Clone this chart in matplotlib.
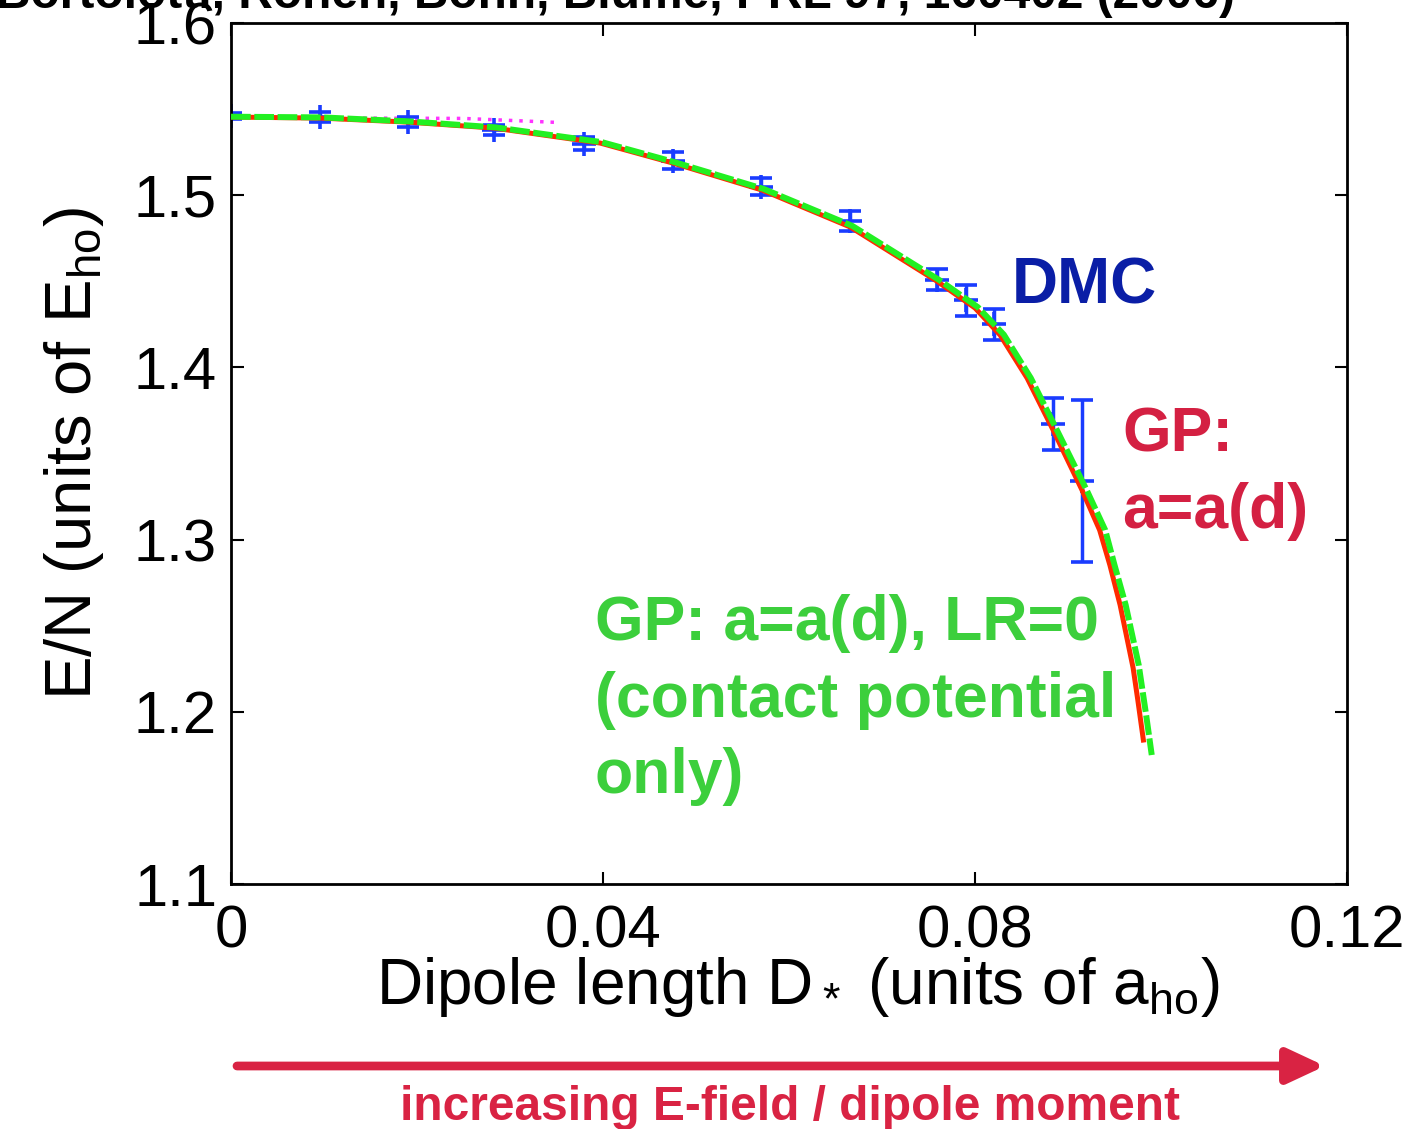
import matplotlib
matplotlib.use("Agg")
import matplotlib.pyplot as plt
from matplotlib.patches import FancyArrowPatch

# DMC energies with error bars
dmc_x = [0.0, 0.0096, 0.019, 0.0283, 0.038, 0.0475, 0.057, 0.0666, 0.0759, 0.079, 0.082, 0.0884, 0.0915]
dmc_y = [1.546, 1.5455, 1.5425, 1.538, 1.530, 1.520, 1.505, 1.485, 1.451, 1.439, 1.425, 1.367, 1.334]
dmc_err = [0.002, 0.003, 0.003, 0.003, 0.004, 0.005, 0.005, 0.006, 0.006, 0.009, 0.009, 0.015, 0.047]

# GP, a = a(d)
gp_x = [0.0, 0.0096, 0.0189, 0.0283, 0.0397, 0.0475, 0.0571, 0.0666, 0.0759, 0.0800, 0.0827,
        0.0856, 0.0884, 0.0915, 0.0934, 0.0945, 0.0956, 0.0970, 0.0975, 0.0981]
gp_y = [1.5454, 1.5448, 1.5425, 1.5390, 1.5303, 1.5187, 1.5030, 1.4815, 1.4501, 1.4345, 1.4188,
        1.3938, 1.3636, 1.3288, 1.3055, 1.2852, 1.2620, 1.2254, 1.2069, 1.1836]

# GP, a = a(d), LR = 0 (contact potential only)
lr0_x = [0.0, 0.0098, 0.0191, 0.0285, 0.0399, 0.0477, 0.0573, 0.0668, 0.0762, 0.0803, 0.0831,
         0.0860, 0.0888, 0.0920, 0.0940, 0.0950, 0.0962, 0.0976, 0.0984, 0.0990]
lr0_y = [1.5456, 1.5452, 1.5429, 1.5394, 1.5308, 1.5192, 1.5036, 1.4822, 1.4506, 1.4350, 1.4190,
         1.3938, 1.3636, 1.3288, 1.3055, 1.2852, 1.2620, 1.2272, 1.1981, 1.1749]

# bit of a magenta dotted curve peeking out near the top
mag_x = [0.0142, 0.025, 0.035]
mag_y = [1.5448, 1.5446, 1.5423]

xticks = [0, 0.04, 0.08, 0.12]
xtick_labels = ['0', '0.04', '0.08', '0.12']
yticks = [1.1, 1.2, 1.3, 1.4, 1.5, 1.6]
ytick_labels = ['1.1', '1.2', '1.3', '1.4', '1.5', '1.6']

plt.rcParams['font.family'] = ['Liberation Sans', 'DejaVu Sans']
plt.rcParams['mathtext.fontset'] = 'custom'
plt.rcParams['mathtext.rm'] = 'Liberation Sans'
plt.rcParams['mathtext.default'] = 'regular'

fig = plt.figure(figsize=(14.12, 11.29), dpi=100)
ax = fig.add_axes([0.1636, 0.217, 0.7904, 0.7626])

ax.errorbar(dmc_x, dmc_y, yerr=dmc_err, fmt='+', color='#1a3cff', ms=17, mew=2.6,
            elinewidth=2.5, capsize=8, capthick=2.5, zorder=2)
ax.plot(mag_x, mag_y, color='#ff33ff', lw=2.5, ls=(0, (1, 2)), zorder=1)
ax.plot(gp_x, gp_y, color='#ff2a00', lw=3.6, zorder=3)
ax.plot(lr0_x, lr0_y, color='#22f022', lw=4.3, dashes=(3.3, 0.6), zorder=4)

ax.set_xlim(0, 0.12)
ax.set_ylim(1.1, 1.6)
ax.set_xticks(xticks)
ax.set_xticklabels(xtick_labels)
ax.set_yticks(yticks)
ax.set_yticklabels(ytick_labels)
ax.tick_params(direction='in', length=9, width=1.5, labelsize=43, top=True, right=True)
ax.tick_params(axis='x', pad=15)
ax.tick_params(axis='y', pad=10)
for s in ax.spines.values():
    s.set_linewidth(2)

ax.set_xlabel(r'Dipole length D$_*$ (units of a$_{ho}$)', fontsize=46)
ax.xaxis.set_label_coords(0.508, -0.083)
ax.set_ylabel(r'E/N (units of E$_{ho}$)', fontsize=47)
ax.yaxis.set_label_coords(-0.112, 0.5)

# labels inside the plot
ax.text(0.084, 1.4374, 'DMC', color='#0a1ea6', fontsize=46, fontweight='bold', va='baseline')
ax.text(0.0958, 1.351, 'GP:', color='#d42042', fontsize=45, fontweight='bold', va='baseline')
ax.text(0.0958, 1.307, 'a=a(d)', color='#d42042', fontsize=45, fontweight='bold', va='baseline')
green_lines = ['GP: a=a(d), LR=0', '(contact potential', 'only)']
for i, line in enumerate(green_lines):
    ax.text(0.0391, 1.2417 - i * 0.0445, line, color='#3ccf3c', fontsize=45,
            fontweight='bold', va='baseline')

# reference, cut off at the top of the slide
fig.text(-0.003, 1 - 8 / 1129, 'Bortolotti, Ronen, Bohn, Blume, PRL 97, 160402 (2006)',
         fontsize=34.5, fontweight='bold', va='baseline', ha='left')

# arrow along the bottom
arrow = FancyArrowPatch((237 / 1412, 1 - 1066 / 1129), (1325 / 1412, 1 - 1066 / 1129),
                        transform=fig.transFigure, arrowstyle='-|>,head_length=0.9,head_width=0.42',
                        mutation_scale=25, lw=6.3, color='#d92343', shrinkA=0, shrinkB=0)
fig.patches.append(arrow)
fig.text(790 / 1412, 1 - 1120 / 1129, 'increasing E-field / dipole moment', color='#d92343',
         fontsize=34.5, fontweight='bold', ha='center', va='baseline')

fig.savefig('out.png', dpi=100)
